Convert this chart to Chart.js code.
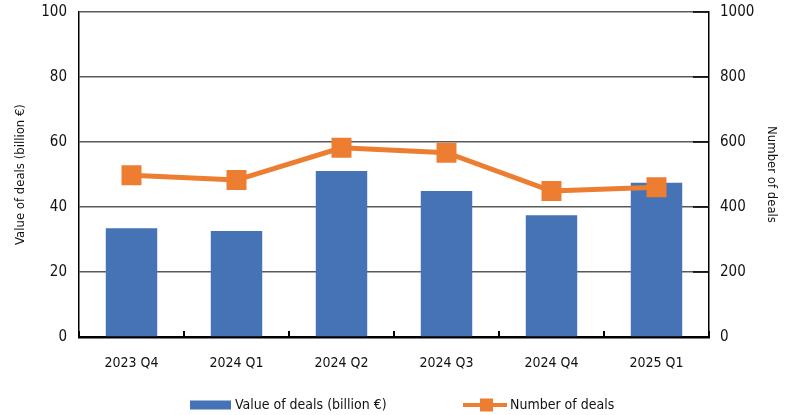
<!DOCTYPE html>
<html>
<head>
<meta charset="utf-8">
<script src="https://cdn.jsdelivr.net/npm/chart.js@4/dist/chart.umd.min.js"></script>
<style>
  html, body { margin: 0; padding: 0; background: #fff; }
</style>
</head>
<body>
<canvas id="dealsChart" width="797" height="415"></canvas>
<script>
const quarters = ['2023 Q4', '2024 Q1', '2024 Q2', '2024 Q3', '2024 Q4', '2025 Q1'];
const dealValues = [33.5, 32.6, 51.1, 44.9, 37.5, 47.5];   // billion €
const dealCounts = [498, 483, 582, 567, 449, 461];
const valueLabel = 'Value of deals (billion €)';
const countLabel = 'Number of deals';

const fontFamily = "'Liberation Sans Narrow', 'DejaVu Sans Condensed', 'Roboto', sans-serif";
const barColor = '#4672B6';
const lineColor = '#ED7D31';
const textColor = '#111';

// little inward tick marks on the x axis and the right axis
const edgeTicks = {
    id: 'edgeTicks',
    afterDatasetsDraw(chart) {
        const { ctx, chartArea: a, scales: { x, y1 } } = chart;
        ctx.save();
        ctx.strokeStyle = '#000';
        ctx.lineWidth = 2;
        ctx.beginPath();
        for (let i = 0; i <= quarters.length; i++) {
            const px = Math.round(x.getPixelForValue(i - 0.5));
            ctx.moveTo(px, a.bottom);
            ctx.lineTo(px, a.bottom - 6);
        }
        ctx.stroke();
        ctx.lineWidth = 1.5;
        ctx.beginPath();
        y1.ticks.forEach(t => {
            const py = y1.getPixelForValue(t.value);
            ctx.moveTo(a.right, py);
            ctx.lineTo(a.right - 16, py);
        });
        ctx.stroke();
        ctx.restore();
    }
};

// legend drawn under the axis, Excel style
const bottomLegend = {
    id: 'bottomLegend',
    afterDraw(chart) {
        const ctx = chart.ctx;
        const yc = 405;
        ctx.save();
        ctx.font = '14px ' + fontFamily;
        ctx.textBaseline = 'middle';

        ctx.fillStyle = barColor;
        ctx.fillRect(190, yc - 4.5, 41, 9);
        ctx.fillStyle = textColor;
        ctx.fillText(valueLabel, 235, yc);

        ctx.strokeStyle = lineColor;
        ctx.lineWidth = 4;
        ctx.beginPath();
        ctx.moveTo(463, yc);
        ctx.lineTo(507, yc);
        ctx.stroke();
        ctx.fillStyle = lineColor;
        ctx.fillRect(480, yc - 6.5, 13, 13);
        ctx.fillStyle = textColor;
        ctx.fillText(countLabel, 510, yc);
        ctx.restore();
    }
};

// fixed axis sizes, no extra room for the end labels
function fixWidth(w) {
    return s => {
        s.width = w;
        s.paddingTop = 0;
        s.paddingBottom = 0;
    };
}

const ctx = document.getElementById('dealsChart').getContext('2d');
new Chart(ctx, {
    data: {
        labels: quarters,
        datasets: [
            {
                type: 'line',
                label: countLabel,
                data: dealCounts,
                yAxisID: 'y1',
                borderColor: lineColor,
                backgroundColor: lineColor,
                borderWidth: 5,
                pointStyle: 'rect',
                pointRadius: 10.6,
                pointHoverRadius: 10.6,
                order: 0,
            },
            {
                type: 'bar',
                label: valueLabel,
                data: dealValues,
                yAxisID: 'y',
                backgroundColor: barColor,
                barPercentage: 0.49,
                categoryPercentage: 1,
                order: 1,
            },
        ],
    },
    options: {
        responsive: false,
        animation: false,
        layout: { autoPadding: false, padding: { top: 12, bottom: 45, left: 0, right: 0 } },
        plugins: {
            legend: { display: false },
            tooltip: { enabled: false },
        },
        scales: {
            x: {
                grid: { display: false },
                border: { color: '#000', width: 2.5 },
                ticks: { color: textColor, font: { family: fontFamily, size: 14 }, padding: 10 },
                afterFit(s) {
                    s.height = 33;
                    s.paddingLeft = 0;
                    s.paddingRight = 0;
                },
            },
            y: {
                position: 'left',
                min: 0,
                max: 100,
                ticks: { stepSize: 20, padding: 12, color: textColor, font: { family: fontFamily, size: 15 } },
                grid: { color: '#5a5a5a', lineWidth: 1.5, drawTicks: false },
                border: { color: '#000', width: 1.5 },
                title: {
                    display: true,
                    text: valueLabel,
                    color: textColor,
                    font: { family: fontFamily, size: 13 },
                    padding: { top: 13, bottom: 0 },
                },
                afterFit: fixWidth(79),
            },
            y1: {
                position: 'right',
                min: 0,
                max: 1000,
                ticks: {
                    stepSize: 200,
                    padding: 11,
                    color: textColor,
                    font: { family: fontFamily, size: 15 },
                    callback: v => String(v),
                },
                grid: { drawOnChartArea: false, drawTicks: false },
                border: { color: '#000', width: 1.5 },
                title: {
                    display: true,
                    text: countLabel,
                    color: textColor,
                    font: { family: fontFamily, size: 13 },
                    padding: { top: 18, bottom: 0 },
                },
                afterFit: fixWidth(88),
            },
        },
    },
    plugins: [edgeTicks, bottomLegend],
});
</script>
</body>
</html>
